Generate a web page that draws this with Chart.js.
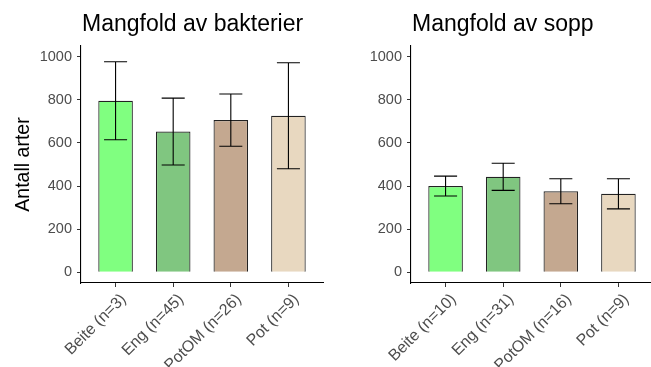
<!DOCTYPE html>
<html lang="no">
<head>
    <meta charset="UTF-8">
    <title>Mangfold av bakterier og sopp</title>
    <script src="https://cdn.jsdelivr.net/npm/chart.js@4.4.1/dist/chart.umd.min.js"></script>
    <style>
        body {
            margin: 0;
            background: white;
            overflow: hidden;
            width: 651px;
            height: 367px;
        }
        .row {
            display: flex;
            width: 660px;
        }
        .panel {
            position: relative;
            width: 330px;
            height: 367px;
        }
    </style>
</head>
<body>
    <div class="row">
        <div class="panel"><canvas id="bact-chart"></canvas></div>
        <div class="panel"><canvas id="fungi-chart"></canvas></div>
    </div>

    <script>
        // Data
        const groups = ['Beite', 'Eng', 'PotOM', 'Pot'];
        const bactN = [3, 45, 26, 9];
        const bactMean = [796, 653, 706, 726];
        const bactErr = [181, 155, 121, 246];
        const fungiN = [10, 31, 16, 9];
        const fungiMean = [400, 443, 376, 364];
        const fungiErr = [46, 63, 58, 70];
        const yTickStep = 200;
        const barColors = ['#80FF80', '#80C680', '#C4A890', '#E8D8C0'];

        const FONT = "'Liberation Sans', Arial, sans-serif";

        // draw title left-aligned to the plot panel, like ggplot does
        const panelTitle = {
            id: 'panelTitle',
            afterDraw(chart, args, opts) {
                const ctx = chart.ctx;
                ctx.save();
                ctx.font = '23px ' + FONT;
                ctx.fillStyle = '#000';
                ctx.textBaseline = 'alphabetic';
                ctx.textAlign = 'left';
                ctx.fillText(opts.text, chart.chartArea.left + 1, 31);
                ctx.restore();
            }
        };

        const errorBars = {
            id: 'errorBars',
            afterDatasetsDraw(chart, args, opts) {
                const ctx = chart.ctx;
                const xs = chart.scales.x;
                const ys = chart.scales.y;
                const data = chart.data.datasets[0].data;
                ctx.save();
                ctx.strokeStyle = '#000';
                ctx.lineWidth = 1.1;
                data.forEach((d, i) => {
                    const x = xs.getPixelForValue(d.x);
                    const half = xs.getPixelForValue(d.x + 0.2) - x;
                    const top = ys.getPixelForValue(d.y + opts.err[i]);
                    const bot = ys.getPixelForValue(d.y - opts.err[i]);
                    ctx.beginPath();
                    ctx.moveTo(x, top); ctx.lineTo(x, bot);
                    ctx.moveTo(x - half, top); ctx.lineTo(x + half, top);
                    ctx.moveTo(x - half, bot); ctx.lineTo(x + half, bot);
                    ctx.stroke();
                });
                ctx.restore();
            }
        };

        function makeChart(id, title, means, errs, ns, showYTitle) {
            const labels = groups.map((g, i) => `${g} (n=${ns[i]})`);
            const points = means.map((v, i) => ({ x: i + 1, y: v }));
            return new Chart(document.getElementById(id), {
                type: 'bar',
                data: {
                    datasets: [{
                        data: points,
                        backgroundColor: barColors,
                        borderColor: '#222222',
                        borderWidth: 1.2,
                        barPercentage: 0.6,
                        categoryPercentage: 1
                    }]
                },
                plugins: [panelTitle, errorBars],
                options: {
                    responsive: true,
                    maintainAspectRatio: false,
                    animation: false,
                    layout: { padding: { top: 46, right: 7, left: 0, bottom: 0 } },
                    plugins: {
                        legend: { display: false },
                        tooltip: { enabled: false },
                        panelTitle: { text: title },
                        errorBars: { err: errs }
                    },
                    scales: {
                        x: {
                            type: 'linear',
                            min: 0.4,
                            max: 4.6,
                            offset: false,
                            afterFit: s => { s.height = 84; },
                            grid: { offset: false, drawOnChartArea: false, tickLength: 4, color: '#333333' },
                            border: { display: true, color: '#000', width: 1.1 },
                            ticks: {
                                stepSize: 1,
                                includeBounds: false,
                                autoSkip: false,
                                minRotation: 45,
                                maxRotation: 45,
                                padding: 3,
                                labelOffset: 8,
                                color: '#4D4D4D',
                                font: { family: FONT, size: 16 },
                                callback: v => labels[v - 1]
                            }
                        },
                        y: {
                            min: -50,
                            max: 1050,
                            afterFit: s => { s.width = 81; },
                            grid: { drawOnChartArea: false, tickLength: 4, color: '#333333' },
                            border: { display: true, color: '#000', width: 1.1 },
                            ticks: {
                                stepSize: yTickStep,
                                includeBounds: false,
                                padding: 5,
                                color: '#4D4D4D',
                                font: { family: FONT, size: 14.5 },
                                callback: v => String(v)
                            },
                            title: {
                                display: showYTitle,
                                text: 'Antall arter',
                                color: '#000',
                                padding: { top: 12, bottom: 0 },
                                font: { family: FONT, size: 19.5 }
                            }
                        }
                    }
                }
            });
        }

        makeChart('bact-chart', 'Mangfold av bakterier', bactMean, bactErr, bactN, true);
        makeChart('fungi-chart', 'Mangfold av sopp', fungiMean, fungiErr, fungiN, false);
    </script>
</body>
</html>
